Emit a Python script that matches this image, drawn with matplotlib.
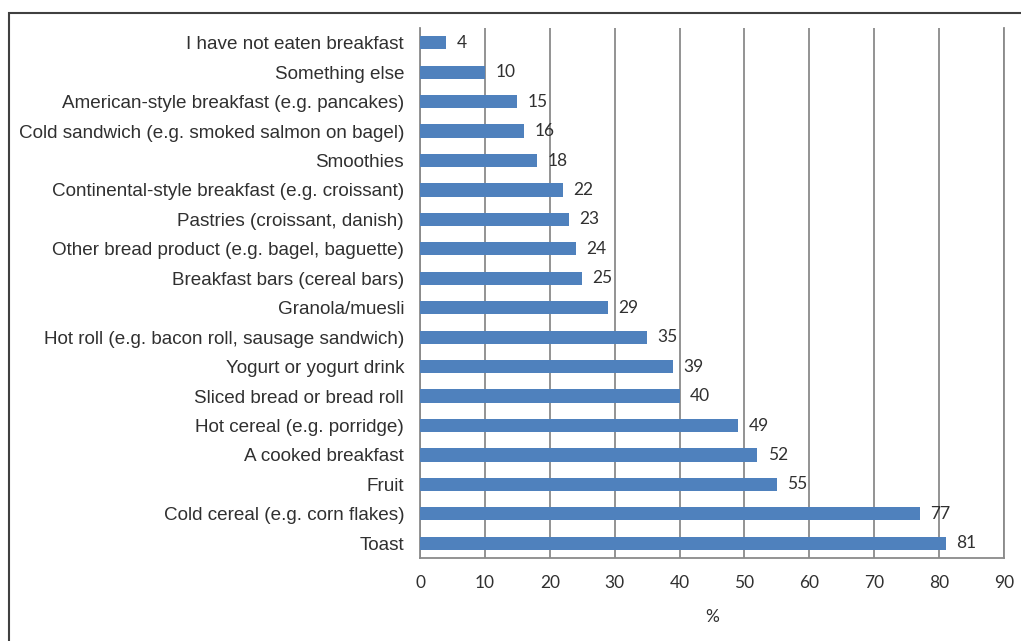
import matplotlib.pyplot as plt
from matplotlib.patches import Rectangle

plt.rcParams['font.family'] = ['Liberation Sans', 'DejaVu Sans']

# Breakfast items, top to bottom as listed on the chart
items = [
    "I have not eaten breakfast",
    "Something else",
    "American-style breakfast (e.g. pancakes)",
    "Cold sandwich (e.g. smoked salmon on bagel)",
    "Smoothies",
    "Continental-style breakfast (e.g. croissant)",
    "Pastries (croissant, danish)",
    "Other bread product (e.g. bagel, baguette)",
    "Breakfast bars (cereal bars)",
    "Granola/muesli",
    "Hot roll (e.g. bacon roll, sausage sandwich)",
    "Yogurt or yogurt drink",
    "Sliced bread or bread roll",
    "Hot cereal (e.g. porridge)",
    "A cooked breakfast",
    "Fruit",
    "Cold cereal (e.g. corn flakes)",
    "Toast",
]
percent = [4, 10, 15, 16, 18, 22, 23, 24, 25, 29, 35, 39, 40, 49, 52, 55, 77, 81]
xticks = list(range(0, 100, 10))

text_col = "#303030"
bar_col = "#4f81bd"
grid_col = "#8a8a8a"
num_font = ['Lato', 'DejaVu Sans']

fig = plt.figure(figsize=(10.21, 6.41), dpi=100)
ax = fig.add_axes([420 / 1021, 1 - 558 / 641, 584 / 1021, 530 / 641])

ypos = list(range(len(items)))
ax.barh(ypos, percent, height=0.45, color=bar_col, zorder=3)
for y, v in zip(ypos, percent):
    ax.text(v + 1.6, y, str(v), va="center", ha="left", fontsize=12.5,
            color=text_col, family=num_font, zorder=4)

ax.set_xlim(0, 90)
ax.set_ylim(len(items) - 0.5, -0.5)
ax.set_xticks(xticks)
ax.set_xticklabels([str(t) for t in xticks], family=num_font)
ax.set_yticks(ypos)
ax.set_yticklabels(items)
ax.tick_params(axis="y", length=0, pad=11.5, labelsize=13.6, labelcolor=text_col)
ax.tick_params(axis="x", length=0, pad=12, labelsize=12.5, labelcolor=text_col)
ax.set_xlabel("%", fontsize=12.5, color=text_col, labelpad=13.5, family=num_font)

ax.grid(axis="x", color=grid_col, linewidth=1.3, zorder=0)
ax.spines["top"].set_visible(False)
for side in ("left", "bottom", "right"):
    ax.spines[side].set_color(grid_col)
    ax.spines[side].set_linewidth(1.3)

# outer frame around the chart
fig.patches.append(Rectangle((9 / 1021, -0.1), 1.1, 1 - 12.5 / 641 + 0.1,
                             transform=fig.transFigure, fill=False,
                             edgecolor="#404040", linewidth=1.5))

fig.savefig("out.png", dpi=100)
